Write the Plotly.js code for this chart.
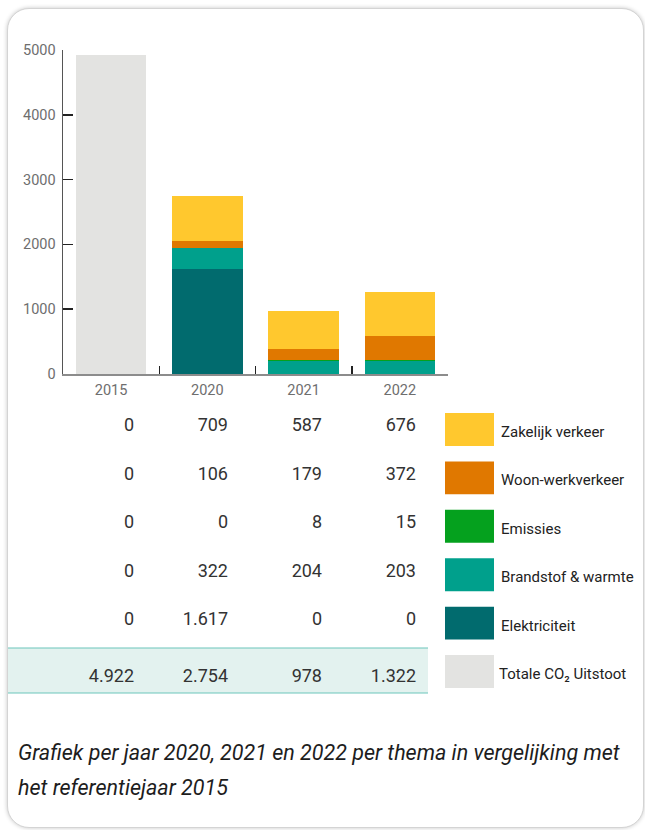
<!DOCTYPE html>
<html><head><meta charset="utf-8">
<script src="https://cdn.plot.ly/plotly-3.0.1.min.js"></script>
<style>
html,body{margin:0;padding:0;background:#fff;width:645px;height:830px;overflow:hidden;}
#card{position:absolute;left:7px;top:8px;width:637px;height:820px;border-radius:22px;border:1px solid #d4d4d4;box-shadow:0 0 4px rgba(0,0,0,0.22);background:#fff;box-sizing:border-box;}
#chart{position:absolute;left:0;top:0;width:645px;height:830px;}
</style></head><body>
<div id="card"></div><div id="chart"></div>
<script>
// ---- data ----
const years = ['2015', '2020', '2021', '2022'];
const zakelijkVerkeer = [0, 709, 587, 676];
const woonWerkverkeer = [0, 106, 179, 372];
const emissies = [0, 0, 8, 15];
const brandstofWarmte = [0, 322, 204, 203];
const elektriciteit = [0, 1617, 0, 0];
const totaleUitstoot = [4922, 2754, 978, 1322];
const seriesNames = ['Zakelijk verkeer', 'Woon-werkverkeer', 'Emissies', 'Brandstof & warmte', 'Elektriciteit'];
const totalName = 'Totale CO₂ Uitstoot';
const yTicks = [0, 1000, 2000, 3000, 4000, 5000];
const caption = ['Grafiek per jaar 2020, 2021 en 2022 per thema in vergelijking met', 'het referentiejaar 2015'];

// ---- styles ----
const seriesValues = [zakelijkVerkeer, woonWerkverkeer, emissies, brandstofWarmte, elektriciteit];
const seriesColors = ['#FFC82E', '#E07800', '#05A11E', '#00A08C', '#016B6E'];
const totalColor = '#E3E3E1';
const W = 645, H = 830;
const px = v => v / W;
const py = v => 1 - v / H;
const fmt = v => String(v).replace(/\B(?=(\d{3})+(?!\d))/g, '.');
const FONT = 'Roboto, "Open Sans", sans-serif';

const traces = [];
// stacked bars, bottom to top
for (let i = seriesNames.length - 1; i >= 0; i--) {
  traces.push({
    type: 'bar', name: seriesNames[i], x: years, y: seriesValues[i],
    marker: {color: seriesColors[i], line: {width: 0}},
    xaxis: 'x', yaxis: 'y', hoverinfo: 'skip'
  });
}
// reference-year total bar
traces.push({
  type: 'bar', name: totalName, x: [years[0]], y: [totaleUitstoot[0]],
  marker: {color: totalColor, line: {width: 0}}, xaxis: 'x', yaxis: 'y', hoverinfo: 'skip'
});

// data table cells (text marks on hidden axes)
const rowNames = seriesNames.concat([totalName]);
const rowValues = seriesValues.concat([totaleUitstoot]);
rowNames.forEach((rn, r) => {
  const isTotal = r === rowNames.length - 1;
  traces.push({
    type: 'scatter', mode: 'text', x: years, y: years.map(() => rn),
    text: rowValues[r].map(fmt), textposition: isTotal ? 'bottom left' : 'middle left',
    textfont: {family: FONT, size: 18, color: '#333333'},
    marker: {size: isTotal ? 4 : 1}, xaxis: 'x2', yaxis: 'y2', hoverinfo: 'skip', showlegend: false
  });
});

// y2 geometry (pixel based layout)
const rowTop = 402.8, rowH = 48.4, y2Min = -0.5, y2Max = 5.7;
const rowC0 = rowTop + 0.5 * rowH;
const y2Bottom = rowTop + (y2Max - y2Min) * rowH;

const shapes = [];
// totals band
const bandY0 = (648 - rowC0) / rowH, bandY1 = (693 - rowC0) / rowH;
shapes.push({type: 'rect', xref: 'paper', yref: 'y2', x0: px(8), x1: px(428), y0: bandY0, y1: bandY1,
  fillcolor: '#E3F2EF', line: {width: 0}, layer: 'below'});
[bandY0, bandY1].forEach(yv => shapes.push({type: 'line', xref: 'paper', yref: 'y2', x0: px(8), x1: px(428), y0: yv, y1: yv,
  line: {color: '#6CC5BB', width: 1.2}, layer: 'below'}));

// legend swatches and labels
const legendColors = seriesColors.concat([totalColor]);
const annotations = [];
const legOff = (429.5 - rowC0) / rowH;
rowNames.forEach((rn, r) => {
  shapes.push({type: 'rect', xref: 'paper', yref: 'y2', x0: px(445), x1: px(494),
    y0: r + legOff - 0.34, y1: r + legOff + 0.34, fillcolor: legendColors[r], line: {width: 0}});
  annotations.push({xref: 'paper', yref: 'y2', x: px(r === 5 ? 497 : 499), y: rn, yshift: -5,
    xanchor: 'left', yanchor: 'middle', showarrow: false, text: rn,
    font: {family: FONT, size: 15, color: '#222222'}});
});
// caption
caption.forEach((t, i) => annotations.push({xref: 'paper', yref: 'paper', x: px(16), y: py(752 + i * 35),
  xanchor: 'left', yanchor: 'middle', showarrow: false, text: t,
  font: {family: FONT, size: 21.5, color: '#1d1d1d', style: 'italic'}}));

const tickFont = {family: FONT, size: 14.5, color: '#6e6e6e'};
const layout = {
  width: W, height: H, autosize: false,
  margin: {l: 0, r: 0, t: 0, b: 0},
  paper_bgcolor: 'rgba(0,0,0,0)', plot_bgcolor: 'rgba(0,0,0,0)',
  showlegend: false, barmode: 'stack', bargap: 0.27,
  xaxis: {type: 'category', categoryorder: 'array', categoryarray: years, range: [-0.5, 3.5],
    domain: [px(63), px(448)], anchor: 'y', showline: true, linecolor: '#8c8c8c', linewidth: 1.5,
    ticks: 'inside', tickson: 'boundaries', ticklen: 8, tickwidth: 1.5, tickcolor: '#222',
    tickfont: tickFont, ticklabelstandoff: 2, showgrid: false, zeroline: false, fixedrange: true},
  yaxis: {range: [0, 5000], domain: [py(374), py(50)], anchor: 'x', tickvals: yTicks,
    showline: true, linecolor: '#555', linewidth: 1.5, ticks: 'inside', ticklen: 10, tickwidth: 1.5,
    tickcolor: '#222', tickfont: tickFont, ticklabelstandoff: 3, showgrid: false, zeroline: false, fixedrange: true},
  xaxis2: {type: 'category', categoryorder: 'array', categoryarray: years, range: [-0.5, 3.5],
    domain: [px(87), px(463)], anchor: 'y2', visible: false, fixedrange: true},
  yaxis2: {type: 'category', categoryorder: 'array', categoryarray: rowNames, range: [y2Max, y2Min],
    domain: [py(y2Bottom), py(rowTop)], anchor: 'x2', visible: false, fixedrange: true},
  shapes: shapes, annotations: annotations
};
Plotly.newPlot('chart', traces, layout, {displayModeBar: false, staticPlot: true});
</script></body></html>
